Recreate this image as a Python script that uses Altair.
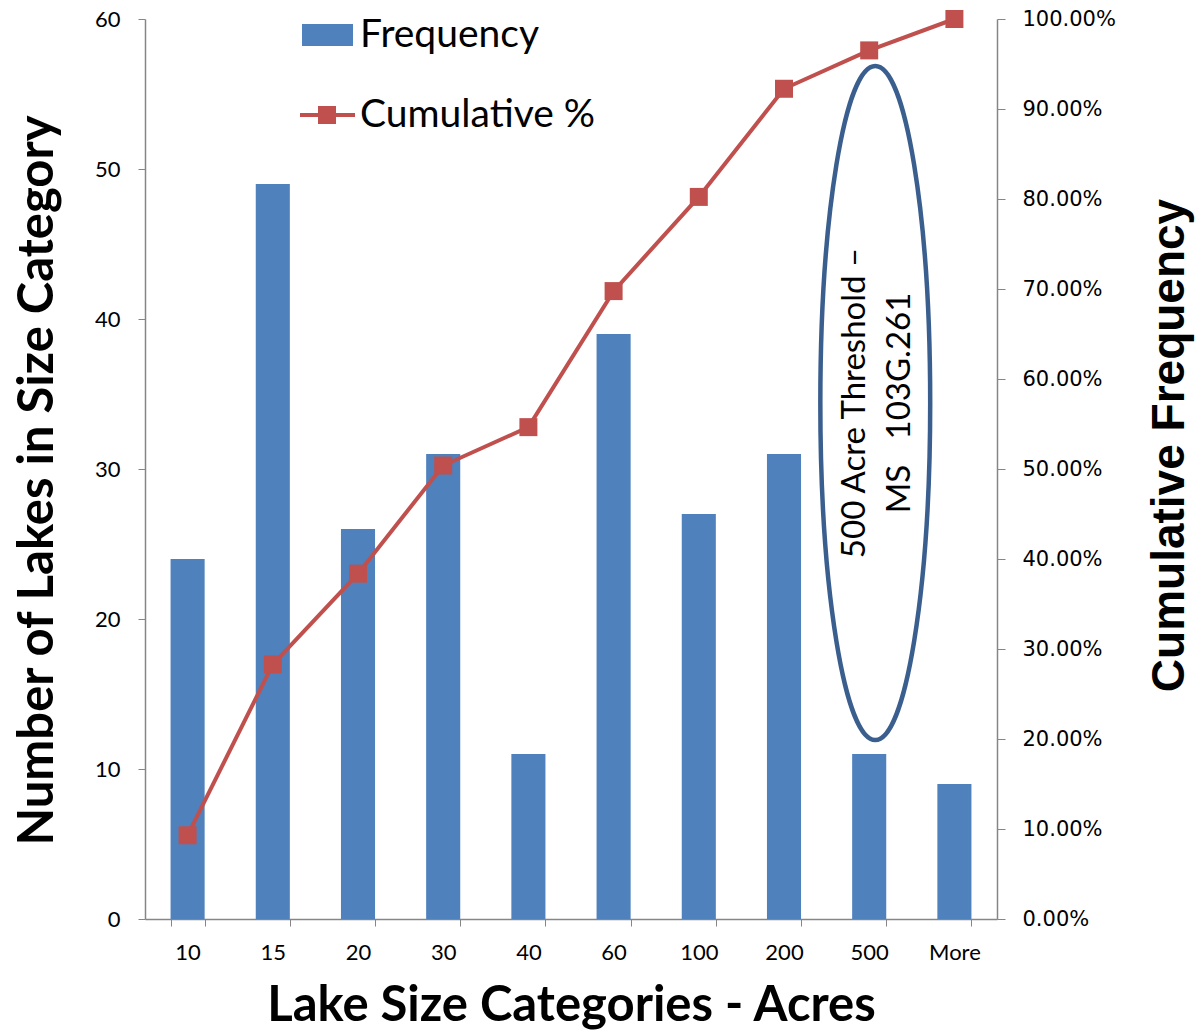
import altair as alt
import pandas as pd

# Lake size bins (acres) and number of lakes in each bin
categories = ["10", "15", "20", "30", "40", "60", "100", "200", "500", "More"]
frequency = [24, 49, 26, 31, 11, 39, 27, 31, 11, 9]

# Cumulative share of lakes up to and including each bin
total = sum(frequency)
running = []
acc = 0
for f in frequency:
    acc += f
    running.append(acc / total)

df = pd.DataFrame({"cat": categories, "freq": frequency, "cum": running})

BLUE = "#4F81BD"
RED = "#C0504D"
NAVY = "#3A5F8E"
AXIS = "#868686"
FONT = "Lato"

x_enc = alt.X(
    "cat:N",
    sort=categories,
    scale=alt.Scale(paddingInner=0.6, paddingOuter=0.3),
    axis=alt.Axis(
        title="Lake Size Categories - Acres",
        titleFont=FONT, titleFontSize=49, titleFontWeight="bold", titleColor="black",
        titleBaseline="alphabetic", titleY=101,
        labelAngle=0, labelFont=FONT, labelFontSize=22, labelColor="black",
        labelPadding=16, tickSize=7, tickBand="extent", tickColor=AXIS,
        domainColor=AXIS, domainWidth=1.5,
    ),
)

left_scale = alt.Scale(domain=[0, 60])
left_axis = alt.Axis(
    title="Number of Lakes in Size Category",
    titleFont=FONT, titleFontSize=49, titleFontWeight="bold", titleColor="black",
    titleAngle=270, titleAlign="center", titleBaseline="alphabetic",
    titleX=-93, titleY=461,
    values=[0, 10, 20, 30, 40, 50, 60],
    labelFont=FONT, labelFontSize=22, labelColor="black", labelPadding=18,
    tickSize=7, tickColor=AXIS, domainColor=AXIS, domainWidth=1.5, grid=False,
)

bars = alt.Chart(df).mark_bar(color=BLUE).encode(
    x=x_enc,
    y=alt.Y("freq:Q", scale=left_scale, axis=left_axis),
)

# Annotation around the 500-acre bin
note = pd.DataFrame({
    "cat": ["500"],
    "yv": [34.4],
    "label": [["500 Acre Threshold \u2013", "MS\u00a0\u00a0 103G.261"]],
})
ellipse_path = "M 0.018 -1 A 0.163 1 0 1 1 0.018 1 A 0.163 1 0 1 1 0.018 -1 Z"
ellipse = alt.Chart(note).mark_point(
    shape=ellipse_path, size=454276, filled=False, stroke=NAVY, strokeWidth=4.5, opacity=1,
).encode(
    x=alt.X("cat:N", sort=categories),
    y=alt.Y("yv:Q", scale=left_scale),
)
note_text = alt.Chart(note).mark_text(
    angle=270, align="center", baseline="middle", font=FONT, fontSize=33,
    lineHeight=45, color="black", dy=-14,
).encode(
    x=alt.X("cat:N", sort=categories),
    y=alt.Y("yv:Q", scale=left_scale),
    text="label",
)

# Legend drawn in the top-left of the plot
one = pd.DataFrame({"k": [0]})
leg_rect = alt.Chart(one).mark_rect(color=BLUE).encode(
    x=alt.value(157), x2=alt.value(208), y=alt.value(5), y2=alt.value(27)
)
leg_text1 = alt.Chart(one).mark_text(
    text="Frequency", align="left", baseline="middle", font=FONT, fontSize=39, color="black"
).encode(x=alt.value(215), y=alt.value(16))
leg_line = alt.Chart(one).mark_rule(color=RED, strokeWidth=4).encode(
    x=alt.value(155), x2=alt.value(210), y=alt.value(96)
)
leg_sq = alt.Chart(one).mark_point(shape="square", size=324, filled=True, color=RED, opacity=1).encode(
    x=alt.value(182), y=alt.value(96)
)
leg_text2 = alt.Chart(one).mark_text(
    text="Cumulative %", align="left", baseline="middle", font=FONT, fontSize=39, color="black"
).encode(x=alt.value(215), y=alt.value(96))

left = alt.layer(bars, ellipse, note_text, leg_rect, leg_text1, leg_line, leg_sq, leg_text2)

right_scale = alt.Scale(domain=[0, 1])
right_axis = alt.Axis(
    orient="right", format=".2%",
    values=[0, 0.1, 0.2, 0.3, 0.4, 0.5, 0.6, 0.7, 0.8, 0.9, 1.0],
    title="Cumulative Frequency",
    titleFont="Liberation Sans", titleFontSize=46, titleFontWeight="bold", titleColor="black",
    titleAngle=270, titleAlign="center", titleBaseline="alphabetic",
    titleX=186, titleY=426,
    labelFont="DejaVu Sans", labelFontSize=21, labelColor="black", labelPadding=17,
    tickSize=8, tickColor=AXIS, domainColor=AXIS, domainWidth=1.5, grid=False,
)

line = alt.Chart(df).mark_line(color=RED, strokeWidth=4).encode(
    x=alt.X("cat:N", sort=categories),
    y=alt.Y("cum:Q", scale=right_scale, axis=right_axis),
)
points = alt.Chart(df).mark_point(shape="square", size=324, filled=True, color=RED, opacity=1).encode(
    x=alt.X("cat:N", sort=categories),
    y=alt.Y("cum:Q", scale=right_scale),
)

right = alt.layer(line, points)

chart = (
    alt.layer(left, right)
    .resolve_scale(y="independent")
    .properties(
        width=852,
        height=900,
        autosize=alt.AutoSizeParams(type="none"),
        padding={"left": 145, "top": 19, "right": 200, "bottom": 112},
        background="white",
    )
    .configure_view(stroke=None)
)

chart.save("out.html", embed_options={"renderer": "svg", "actions": False})
